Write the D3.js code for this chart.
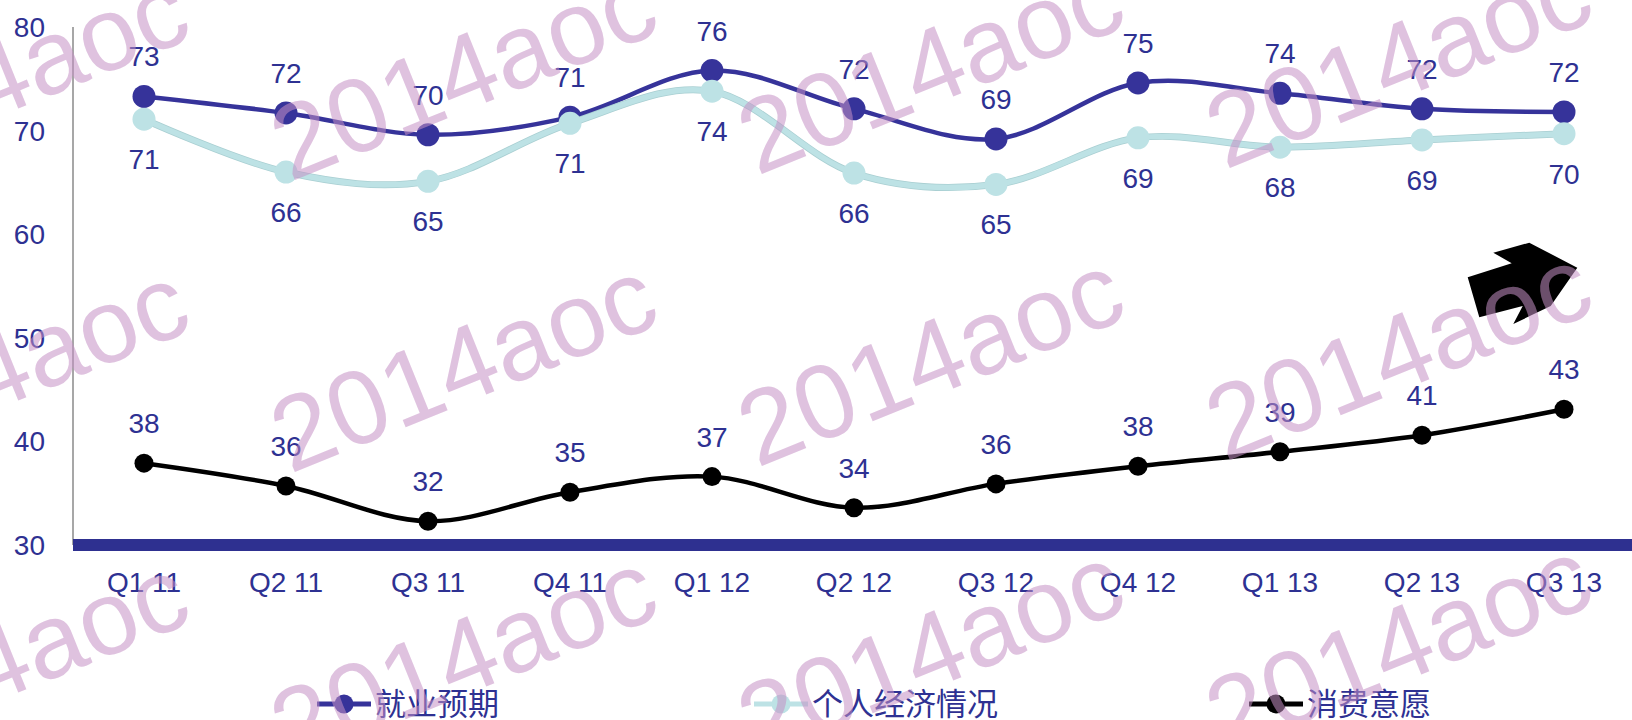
<!DOCTYPE html>
<html><head><meta charset="utf-8">
<script src="https://cdn.jsdelivr.net/npm/d3@7"></script>
<style>html,body{margin:0;padding:0;background:#fff;overflow:hidden}</style>
</head><body>
<svg id="chart" width="1632" height="720"></svg>
<script>
// ---- data ----
const categories = ["Q1 11","Q2 11","Q3 11","Q4 11","Q1 12","Q2 12","Q3 12","Q4 12","Q1 13","Q2 13","Q3 13"];
const employment  = [73.3, 71.7, 69.6, 71.3, 75.8, 72.1, 69.2, 74.6, 73.6, 72.1, 71.8]; // 就业预期
const personal    = [71.1, 66.0, 65.1, 70.7, 73.8, 65.9, 64.8, 69.3, 68.4, 69.1, 69.7]; // 个人经济情况
const consumption = [37.9, 35.7, 32.3, 35.1, 36.6, 33.6, 35.9, 37.6, 39.0, 40.6, 43.1]; // 消费意愿
const yTicks = [30, 40, 50, 60, 70, 80];
const seriesNames = ["就业预期", "个人经济情况", "消费意愿"];
const watermarkText = "2014aoc";

// ---- setup ----
const W = 1632, H = 720;
const svg = d3.select("#chart");
const FONT = "'Liberation Sans', Arial, sans-serif";
const CJK = "'Noto Sans CJK SC', 'Noto Sans', sans-serif";
const TXT = "#2e3192";

const x = d3.scaleBand().domain(categories).range([73, 1635]);
const cx = c => x(c) + x.bandwidth() / 2;
const y = d3.scaleLinear().domain([30, 80]).range([545, 27]);

// y axis
const yAxis = svg.append("g").attr("transform", "translate(73,0)")
  .call(d3.axisLeft(y).tickValues(yTicks).tickSize(0).tickPadding(28).tickFormat(d3.format("d")));
yAxis.select(".domain").remove();
yAxis.selectAll("text").attr("font-family", FONT).attr("font-size", 28).attr("fill", TXT).attr("dy", "0.34em");
svg.append("line").attr("x1", 73).attr("x2", 73).attr("y1", y(80)).attr("y2", y(30))
  .attr("stroke", "#8a8a8a").attr("stroke-width", 1.5);

// x axis band
svg.append("rect").attr("x", 73).attr("y", y(30) - 6).attr("width", W - 73).attr("height", 12).attr("fill", "#2e3090");
const xAxis = svg.append("g").attr("transform", `translate(0,${y(30)})`)
  .call(d3.axisBottom(x).tickSize(0).tickPadding(27));
xAxis.select(".domain").remove();
xAxis.selectAll("text").attr("font-family", FONT).attr("font-size", 28).attr("fill", TXT);

// ---- series ----
const curve = d3.curveCardinal.tension(0);
const series = [
  {name: seriesNames[0], values: employment, color: "#36339a", width: 4.5, r: 11.5, labelDy: -30},
  {name: seriesNames[1], values: personal, color: "#bde2e5", width: 5.5, r: 11.5, labelDy: 50, outline: "#a9cfd2"},
  {name: seriesNames[2], values: consumption, color: "#000000", width: 4.5, r: 9.5, labelDy: -30}
];
const line = d3.line().x((d, i) => cx(categories[i])).y(d => y(d)).curve(curve);

const drawOrder = [0, 2, 1];
drawOrder.forEach(k => {
  const s = series[k];
  const g = svg.append("g");
  if (s.outline) {
    g.append("path").attr("d", line(s.values)).attr("fill", "none").attr("stroke", s.outline).attr("stroke-width", s.width + 1.5);
  }
  g.append("path").attr("d", line(s.values)).attr("fill", "none").attr("stroke", s.color).attr("stroke-width", s.width);
  g.selectAll("circle").data(s.values).join("circle")
    .attr("cx", (d, i) => cx(categories[i])).attr("cy", d => y(d)).attr("r", s.r).attr("fill", s.color);
});
series.forEach(s => {
  svg.append("g").selectAll("text").data(s.values).join("text")
    .attr("x", (d, i) => cx(categories[i])).attr("y", d => y(d) + s.labelDy)
    .attr("text-anchor", "middle").attr("font-family", FONT).attr("font-size", 28).attr("fill", TXT)
    .text(d => d3.format(".0f")(d));
});

// arrow decoration
svg.append("path")
  .attr("d", "M1493.3,252.7 L1529.3,242.7 L1577.3,267.7 L1550.7,306 L1513.3,324 L1522.7,306 L1479.3,317.3 L1467.7,277.3 L1511.7,263.3 Z")
  .attr("fill", "#000");

// ---- legend ----
const legendX = [344, 781, 1276];
const legend = svg.append("g");
series.forEach((s, i) => {
  const g = legend.append("g").attr("transform", `translate(${legendX[i]},704)`);
  g.append("line").attr("x1", -27).attr("x2", 27).attr("stroke", s.color).attr("stroke-width", 5);
  g.append("circle").attr("r", 9.5).attr("fill", s.color);
  g.append("text").attr("x", 31).attr("dy", "0.36em").attr("font-family", CJK).attr("font-size", 31)
    .attr("fill", TXT).text(s.name);
});

// ---- watermarks ----
const wmCols = [-178, 290, 757, 1225];
const wmRows = [188, 480, 772];
const wm = svg.append("g").attr("pointer-events", "none");
wmRows.forEach(ry => wmCols.forEach((cxp, ci) => {
  wm.append("text").attr("transform", `translate(${cxp},${ry - ci * 6}) rotate(-22)`)
    .attr("font-family", FONT).attr("font-size", 105).attr("fill", "#c48fc4").attr("fill-opacity", 0.55)
    .text(watermarkText);
}));
</script>
</body></html>
